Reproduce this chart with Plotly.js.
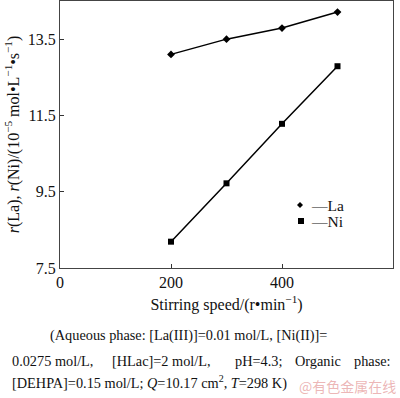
<!DOCTYPE html>
<html><head><meta charset="utf-8">
<script src="https://cdn.plot.ly/plotly-3.0.1.min.js"></script>
<style>html,body{margin:0;padding:0;background:#fff}#chart{width:400px;height:398px}</style>
</head><body><div id="chart"></div>
<script>
const speeds = [200, 300, 400, 500];
const rateLa = [13.10, 13.50, 13.79, 14.21];
const rateNi = [8.19, 9.72, 11.28, 12.79];
const xTicks = [0, 200, 400, 600];
const yTicks = [7.5, 9.5, 11.5, 13.5];
const captionLines = [
  "(Aqueous phase: [La(III)]=0.01 mol/L, [Ni(II)]=",
  "[DEHPA]=0.15 mol/L; <i>Q</i>=10.17 cm<sup>2</sup>, <i>T</i>=298 K)"
];
const captionLine2 = ["0.0275 mol/L,", "[HLac]=2 mol/L,", "pH=4.3;", "Organic", "phase:"];
const legendNames = ["—La", "—Ni"];

const L = 60, R = 393, T = 1, B = 268;
const px = x => (x - L) / (R - L);
const py = y => (B - y) / (B - T);
const serif = "Liberation Serif, Times New Roman, serif";

const ann = [];
ann.push({text: captionLines[0], x: px(48), y: py(335), xref:'paper', yref:'paper', xanchor:'left', yanchor:'middle', showarrow:false, font:{size:14.3}});
const line2x = [10, 110, 233, 293, 393];
captionLine2.forEach((t,i)=>{
  ann.push({text:t, x: px(line2x[i]), y: py(361), xref:'paper', yref:'paper', xanchor: i===4?'right':'left', yanchor:'middle', showarrow:false, font:{size:14.3}});
});
ann.push({text: captionLines[1], x: px(10), y: py(382), xref:'paper', yref:'paper', xanchor:'left', yanchor:'middle', showarrow:false, font:{size:14.3}});
ann.push({text: "@有色金属在线", x: px(398), y: py(386), xref:'paper', yref:'paper', xanchor:'right', yanchor:'middle', showarrow:false, font:{size:14, family:"Noto Sans CJK SC", color:"rgba(220,120,120,0.55)"}});
// legend labels
ann.push({text: legendNames[0], x: px(309), y: py(205), xref:'paper', yref:'paper', xanchor:'left', yanchor:'middle', showarrow:false, font:{size:15.5}});
ann.push({text: legendNames[1], x: px(309), y: py(221), xref:'paper', yref:'paper', xanchor:'left', yanchor:'middle', showarrow:false, font:{size:15.5}});

const traces = [
  {x: speeds, y: rateLa, mode:'lines+markers', name:'La', line:{color:'#000', width:1.5}, marker:{symbol:'diamond', size:6, color:'#000'}, showlegend:false, cliponaxis:false},
  {x: speeds, y: rateNi, mode:'lines+markers', name:'Ni', line:{color:'#000', width:1.5}, marker:{symbol:'square', size:6, color:'#000'}, showlegend:false, cliponaxis:false}
];

const layout = {
  width: 400, height: 398,
  margin: {l: L, r: 400 - R, t: T, b: 398 - B},
  paper_bgcolor:'#fff', plot_bgcolor:'#fff',
  font: {family: serif, color:'#111', size:16},
  showlegend:false,
  xaxis: {range:[0,600], tickvals: xTicks, ticktext: xTicks.map(String), ticks:'inside', ticklen:4, tickcolor:'#333',
    showline:true, linecolor:'#444', linewidth:1, mirror:true, showgrid:false, zeroline:false,
    tickfont:{size:16}, title:{text:"Stirring speed/(r•min<sup>−1</sup>)", font:{size:16}, standoff:8}, automargin:false},
  yaxis: {range:[7.5, 14.5], tickvals: yTicks, ticktext: yTicks.map(v=>v.toFixed(1)), ticks:'inside', ticklen:4, tickcolor:'#333',
    showline:true, linecolor:'#444', linewidth:1, mirror:true, showgrid:false, zeroline:false,
    tickfont:{size:16}, title:{text:"<i>r</i>(La), <i>r</i>(Ni)/(10<sup>−5</sup> mol•L<sup>−1</sup>•s<sup>−1</sup>)", font:{size:16}, standoff:4}, automargin:false},
  annotations: ann,
  shapes: [
    {type:'path', xref:'paper', yref:'paper',
     path: `M ${px(300)} ${py(202)} L ${px(303)} ${py(205)} L ${px(300)} ${py(208)} L ${px(297)} ${py(205)} Z`,
     fillcolor:'#000', line:{width:0}},
    {type:'rect', xref:'paper', yref:'paper', x0:px(298), x1:px(304), y0:py(218), y1:py(224), fillcolor:'#000', line:{width:0}}
  ]
};
Plotly.newPlot('chart', traces, layout, {displayModeBar:false, staticPlot:true});
</script></body></html>
